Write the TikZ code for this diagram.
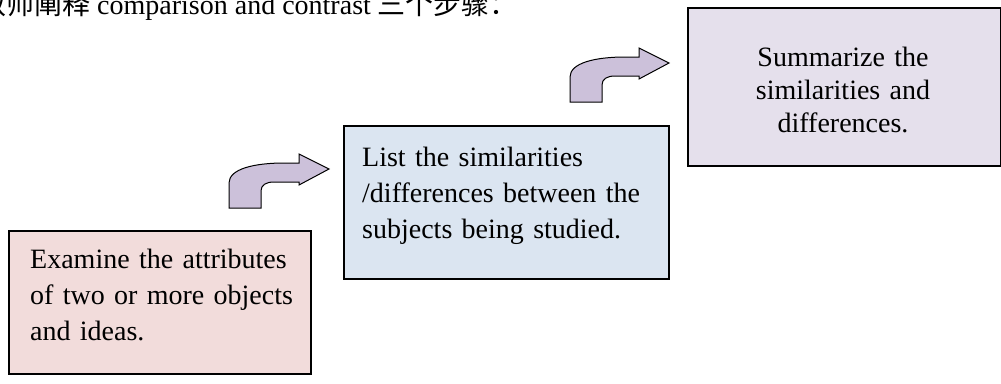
\documentclass[tikz,border=0pt]{standalone}
\usepackage{fontspec}
\setmainfont{Liberation Serif}
\newfontfamily\cjk{Noto Sans CJK SC}
\definecolor{pinkfill}{HTML}{F2DCDB}
\definecolor{bluefill}{HTML}{DBE5F1}
\definecolor{purplefill}{HTML}{E5E0EC}
\definecolor{arrowfill}{HTML}{CCC1DA}
\begin{document}
\begin{tikzpicture}[x=1pt,y=-1pt,
  stepbox/.style={draw=black, line width=1.6pt, inner sep=0pt, anchor=north west},
  boxtext/.style={inner sep=0pt, anchor=base west, font=\fontsize{28}{36}\selectfont},
  bentarrow/.style={draw=black, line width=1pt, fill=arrowfill, line join=miter}]
\useasboundingbox (0,0) rectangle (1001,383);
% heading (cut at the top)
\node[inner sep=0pt, anchor=base west, font=\fontsize{28}{28}\selectfont] (head) at (-22,14)
  {{\cjk 教师阐释} comparison and contrast {\cjk 三个步骤：}};
% boxes
\node[stepbox, fill=pinkfill, minimum width=302, minimum height=143] (b1) at (8,230) {};
\node[stepbox, fill=bluefill, minimum width=325, minimum height=153] (b2) at (343,125) {};
\node[stepbox, fill=purplefill, minimum width=313, minimum height=158] (b3) at (687,7) {};
% texts
\node[boxtext, text width=258, align=left] (t1) at (30,268)
  {\makebox[258pt][s]{Examine the attributes}\\
   \makebox[258pt][s]{of two or more objects}\\
   and ideas.};
\node[boxtext, text width=300, align=left] (t2) at (362,166)
  {List the similarities\\/differences between the\\subjects being studied.};
\node[boxtext, anchor=base, text width=300, align=center, font=\fontsize{28}{33}\selectfont] (t3) at (843,66)
  {Summarize the\\similarities and\\differences.};
% bent arrows
\draw[bentarrow, shift={(229,154)}]
  (0,54) -- (0,29) .. controls (0,15) and (25,9) .. (55,9) -- (70,9) -- (70,0)
  -- (100,15) -- (70,31) -- (70,28) -- (45,28) .. controls (37,28) and (32,31) .. (32,37)
  -- (32,54) -- cycle;
\draw[bentarrow, shift={(570,48)}]
  (0,54) -- (0,29) .. controls (0,15) and (25,9) .. (55,9) -- (69,9) -- (69,0)
  -- (99,15) -- (69,31) -- (69,28) -- (45,28) .. controls (37,28) and (32,31) .. (32,37)
  -- (32,54) -- cycle;
\end{tikzpicture}
\end{document}
